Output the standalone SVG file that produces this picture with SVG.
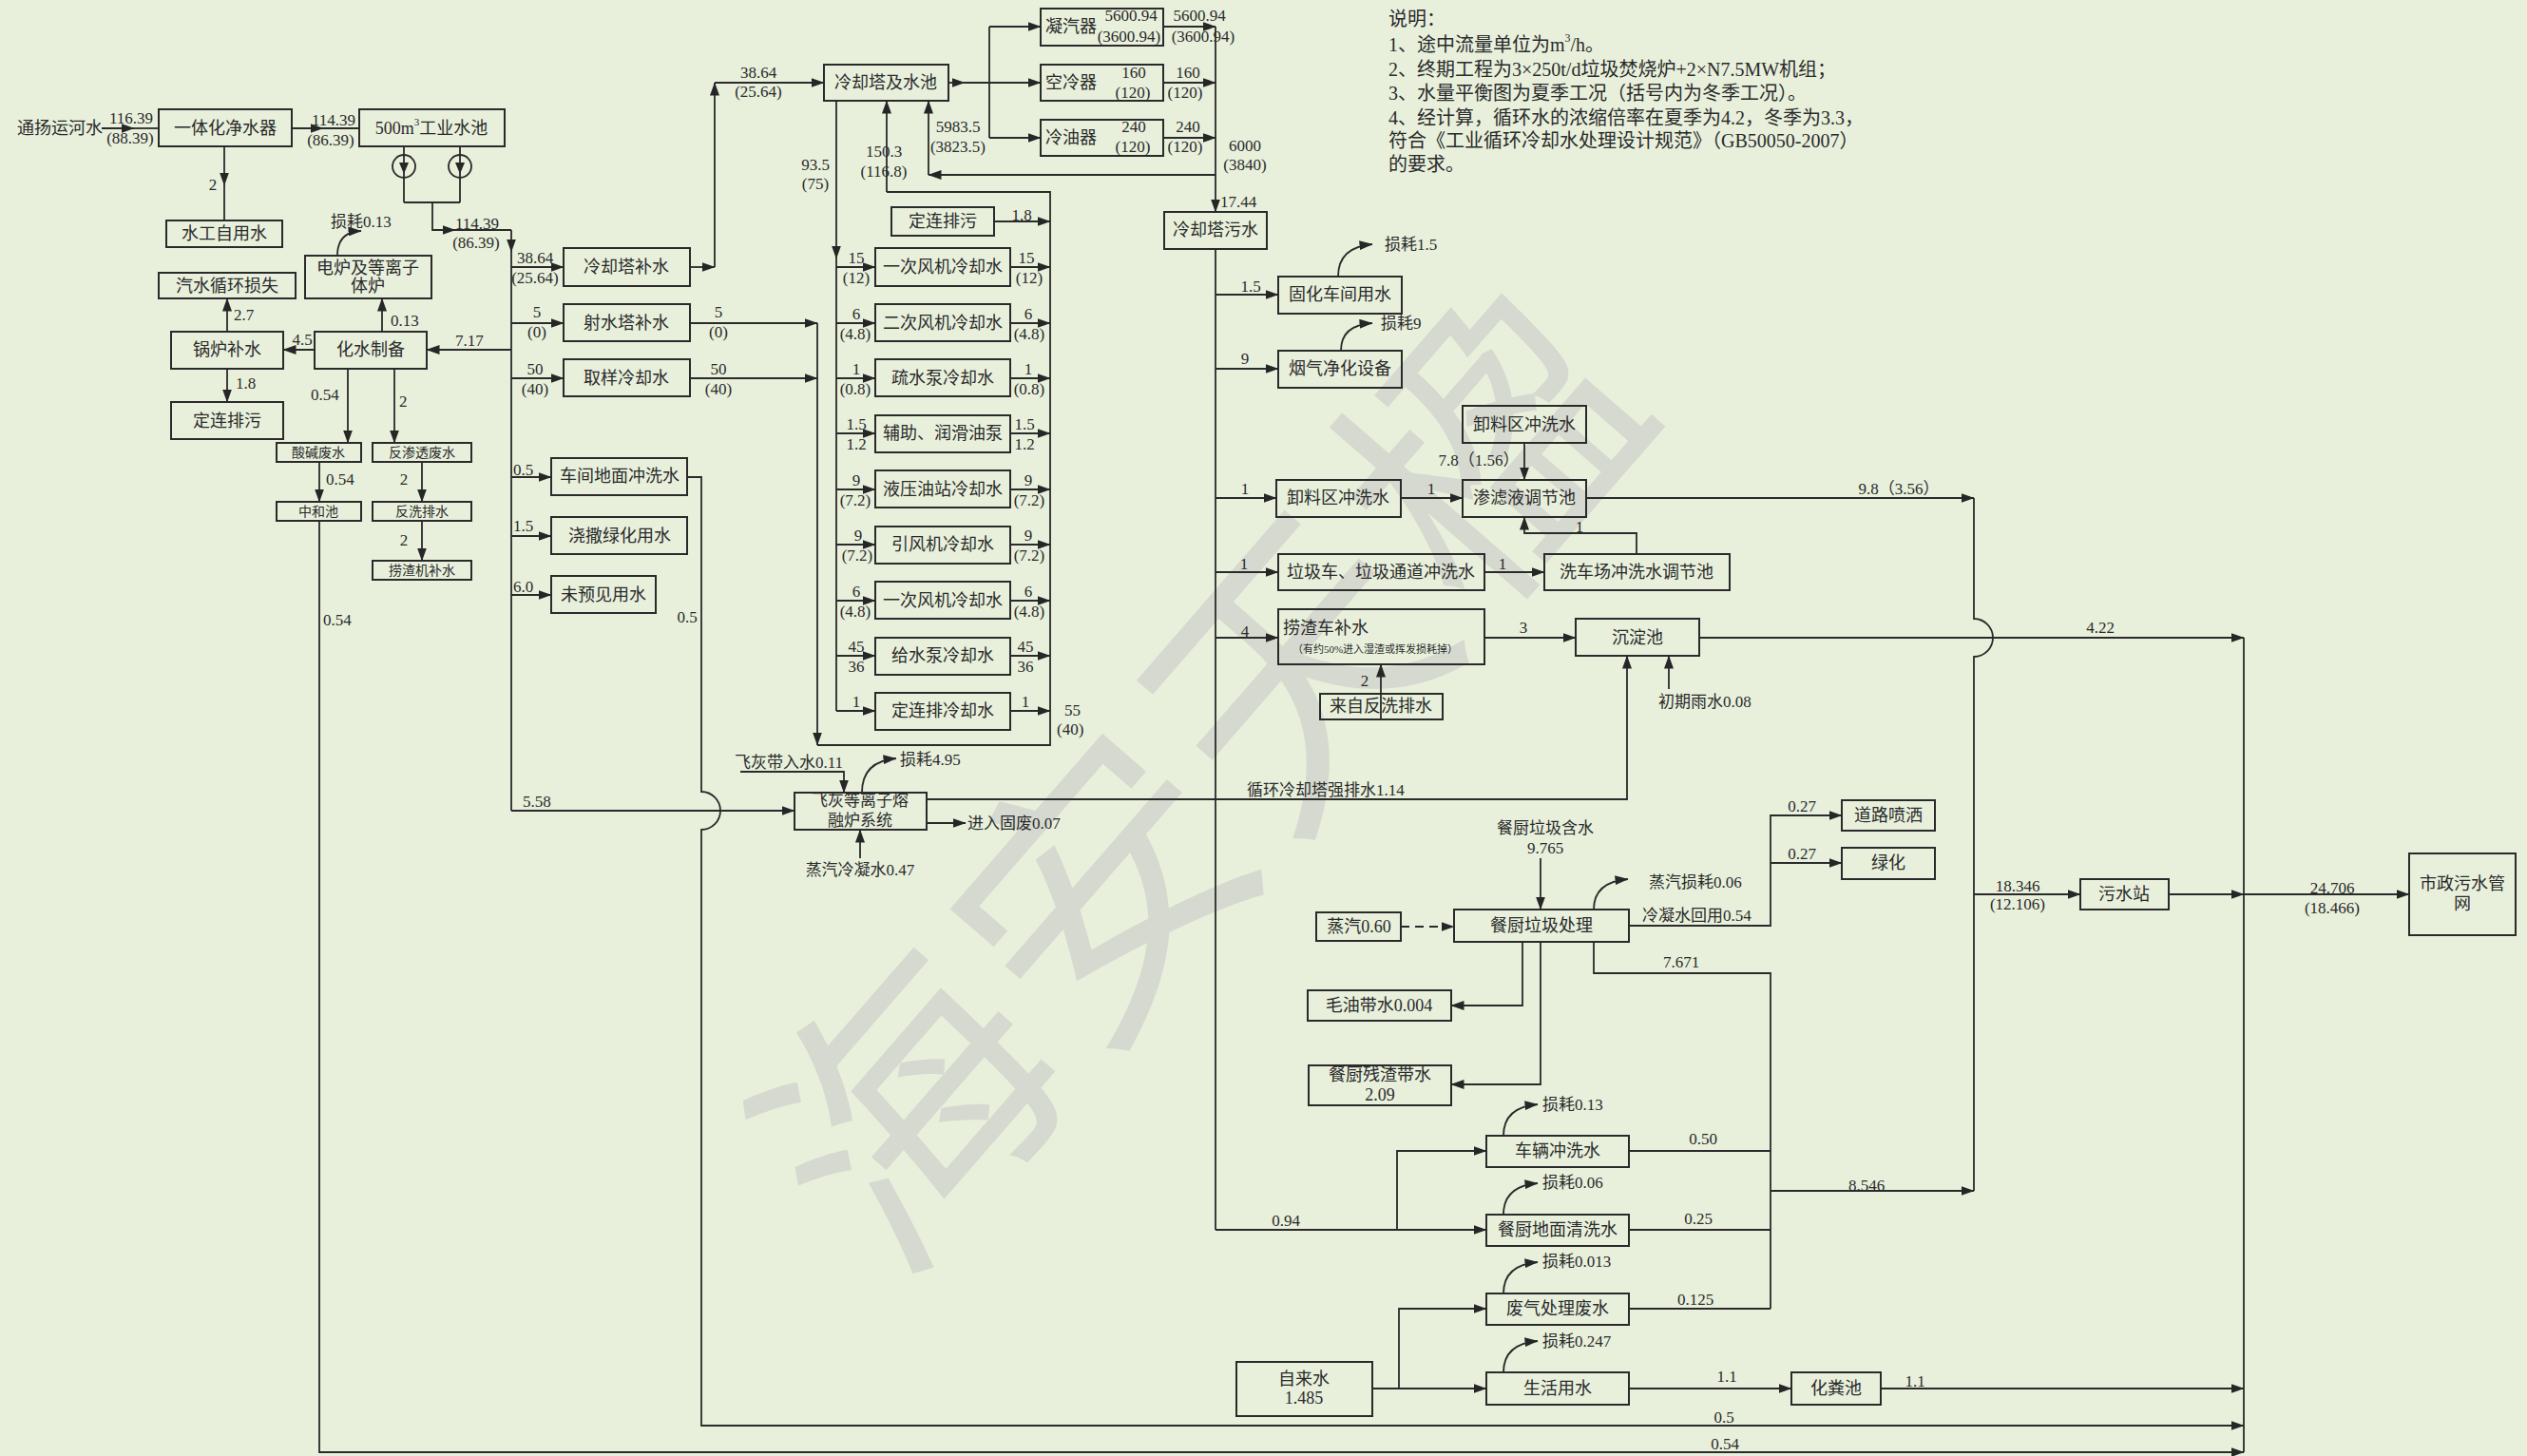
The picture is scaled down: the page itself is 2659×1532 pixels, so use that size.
<svg xmlns="http://www.w3.org/2000/svg" width="2659" height="1532" viewBox="0 0 2659 1532">
<defs>
<marker id="a" markerWidth="14" markerHeight="10" refX="13.5" refY="5" orient="auto" markerUnits="userSpaceOnUse"><path d="M0,0 L14,5 L0,10 z" fill="#262626"/></marker>
<style>
text{font-family:"Liberation Serif","Noto Sans CJK SC",serif;fill:#2a2a2a;dominant-baseline:central}
.n rect{fill:none;stroke:#2a2a2a;stroke-width:2}
.n text{font-size:18px;text-anchor:middle}
.n.sm text{font-size:14px}
#connectors path{fill:none;stroke:#2a2a2a;stroke-width:1.8}
#connectors .ar{marker-end:url(#a)}
#connectors .da{stroke-dasharray:9 6}
#labels text{font-size:17px;text-anchor:middle}
#labels text.s{text-anchor:start}
#notes text{font-size:20px}
#watermark text{font-size:300px;fill:#d6d9cf;text-anchor:middle;font-family:"Noto Sans CJK SC",sans-serif}
</style>
</defs>
<rect x="0" y="0" width="2659" height="1532" fill="#e8f0dc"/>
<g id="watermark">
<text transform="translate(941,1153) rotate(-49)">海</text>
<text transform="translate(1145,921) rotate(-49)">安</text>
<text transform="translate(1348,690) rotate(-49)">天</text>
<text transform="translate(1552,458) rotate(-49)">楹</text>
</g>
<g id="notes">
<text x="1461" y="20">说明：</text>
<text x="1461" y="47">1、途中流量单位为m<tspan font-size="12" dy="-7">3</tspan><tspan dy="7">/h。</tspan></text>
<text x="1461" y="73">2、终期工程为3×250t/d垃圾焚烧炉+2×N7.5MW机组；</text>
<text x="1461" y="98">3、水量平衡图为夏季工况（括号内为冬季工况）。</text>
<text x="1461" y="124">4、经计算，循环水的浓缩倍率在夏季为4.2，冬季为3.3，</text>
<text x="1461" y="148">符合《工业循环冷却水处理设计规范》（GB50050-2007）</text>
<text x="1461" y="173">的要求。</text>
</g>
<g id="nodes">
<g id="n-yiti" class="n"><rect x="167" y="115" width="140" height="39"/><text x="237" y="135">一体化净水器</text></g>
<g id="n-pool" class="n"><rect x="378" y="115" width="153" height="39"/><text x="454" y="135">500m<tspan font-size="11" dy="-7">3</tspan><tspan dy="7">工业水池</tspan></text></g>
<g id="n-shuigong" class="n"><rect x="175" y="232" width="122" height="28"/><text x="236" y="246">水工自用水</text></g>
<g id="n-dianlu" class="n"><rect x="321" y="269" width="133" height="45"/><text x="387" y="282">电炉及等离子</text><text x="387" y="301">体炉</text></g>
<g id="n-qishui" class="n"><rect x="167" y="287" width="144" height="27"/><text x="239" y="301">汽水循环损失</text></g>
<g id="n-guolu" class="n"><rect x="180" y="349" width="118" height="39"/><text x="239" y="368">锅炉补水</text></g>
<g id="n-huashui" class="n"><rect x="331" y="349" width="118" height="39"/><text x="390" y="368">化水制备</text></g>
<g id="n-dinglian1" class="n"><rect x="180" y="423" width="118" height="39"/><text x="239" y="443">定连排污</text></g>
<g id="n-suanjian" class="n sm"><rect x="291" y="466" width="89" height="20"/><text x="335" y="476">酸碱废水</text></g>
<g id="n-fanshentou" class="n sm"><rect x="392" y="466" width="104" height="20"/><text x="444" y="476">反渗透废水</text></g>
<g id="n-zhonghe" class="n sm"><rect x="291" y="528" width="89" height="20"/><text x="335" y="538">中和池</text></g>
<g id="n-fanxi" class="n sm"><rect x="392" y="528" width="104" height="20"/><text x="444" y="538">反洗排水</text></g>
<g id="n-laozhaji" class="n sm"><rect x="392" y="590" width="104" height="20"/><text x="444" y="600">捞渣机补水</text></g>
<g id="n-lqtbs" class="n"><rect x="593" y="261" width="133" height="40"/><text x="659" y="281">冷却塔补水</text></g>
<g id="n-sheshui" class="n"><rect x="593" y="320" width="133" height="39"/><text x="659" y="340">射水塔补水</text></g>
<g id="n-quyang" class="n"><rect x="593" y="378" width="133" height="39"/><text x="659" y="398">取样冷却水</text></g>
<g id="n-chejian" class="n"><rect x="580" y="482" width="143" height="39"/><text x="652" y="501">车间地面冲洗水</text></g>
<g id="n-jiaosa" class="n"><rect x="580" y="544" width="143" height="39"/><text x="652" y="564">浇撒绿化用水</text></g>
<g id="n-weiyujian" class="n"><rect x="580" y="606" width="110" height="39"/><text x="635" y="626">未预见用水</text></g>
<g id="n-lqt" class="n"><rect x="867" y="68" width="131" height="38"/><text x="932" y="87">冷却塔及水池</text></g>
<g id="n-ningqi" class="n"><rect x="1095" y="9" width="129" height="39"/><text x="1100" y="28" style="text-anchor:start">凝汽器</text></g>
<g id="n-kongleng" class="n"><rect x="1095" y="68" width="129" height="38"/><text x="1100" y="87" style="text-anchor:start">空冷器</text></g>
<g id="n-lengyou" class="n"><rect x="1095" y="126" width="129" height="38"/><text x="1100" y="145" style="text-anchor:start">冷油器</text></g>
<g id="n-dinglian2" class="n"><rect x="938" y="218" width="108" height="30"/><text x="992" y="233">定连排污</text></g>
<g id="n-c1" class="n"><rect x="921" y="261" width="142" height="40"/><text x="992" y="281">一次风机冷却水</text></g>
<g id="n-c2" class="n"><rect x="921" y="320" width="142" height="39"/><text x="992" y="340">二次风机冷却水</text></g>
<g id="n-c3" class="n"><rect x="921" y="378" width="142" height="39"/><text x="992" y="398">疏水泵冷却水</text></g>
<g id="n-c4" class="n"><rect x="921" y="437" width="142" height="39"/><text x="992" y="456">辅助、润滑油泵</text></g>
<g id="n-c5" class="n"><rect x="921" y="495" width="142" height="39"/><text x="992" y="515">液压油站冷却水</text></g>
<g id="n-c6" class="n"><rect x="921" y="554" width="142" height="39"/><text x="992" y="573">引风机冷却水</text></g>
<g id="n-c7" class="n"><rect x="921" y="612" width="142" height="39"/><text x="992" y="632">一次风机冷却水</text></g>
<g id="n-c8" class="n"><rect x="921" y="671" width="142" height="39"/><text x="992" y="690">给水泵冷却水</text></g>
<g id="n-c9" class="n"><rect x="921" y="729" width="142" height="39"/><text x="992" y="748">定连排冷却水</text></g>
<g id="n-lqtws" class="n"><rect x="1225" y="223" width="108" height="39"/><text x="1279" y="242">冷却塔污水</text></g>
<g id="n-guhua" class="n"><rect x="1345" y="291" width="130" height="39"/><text x="1410" y="310">固化车间用水</text></g>
<g id="n-yanqi" class="n"><rect x="1345" y="369" width="130" height="39"/><text x="1410" y="388">烟气净化设备</text></g>
<g id="n-xieliao1" class="n"><rect x="1539" y="427" width="130" height="39"/><text x="1604" y="447">卸料区冲洗水</text></g>
<g id="n-xieliao2" class="n"><rect x="1343" y="505" width="131" height="39"/><text x="1408" y="524">卸料区冲洗水</text></g>
<g id="n-shenlv" class="n"><rect x="1539" y="505" width="130" height="39"/><text x="1604" y="524">渗滤液调节池</text></g>
<g id="n-lajiche" class="n"><rect x="1345" y="583" width="217" height="38"/><text x="1453" y="602">垃圾车、垃圾通道冲洗水</text></g>
<g id="n-xichechang" class="n"><rect x="1625" y="583" width="195" height="38"/><text x="1722" y="602">洗车场冲洗水调节池</text></g>
<g id="n-laozhache" class="n"><rect x="1345" y="641" width="217" height="58"/><text x="1350" y="661" style="text-anchor:start">捞渣车补水</text><text x="1447" y="683" style="font-size:11px">（有约50%进入湿渣或挥发损耗掉）</text></g>
<g id="n-chendian" class="n"><rect x="1658" y="651" width="130" height="39"/><text x="1723" y="671">沉淀池</text></g>
<g id="n-laizi" class="n"><rect x="1389" y="730" width="129" height="27"/><text x="1453" y="743">来自反洗排水</text></g>
<g id="n-feihui" class="n"><rect x="836" y="834" width="139" height="39"/><text x="905" y="842" style="font-size:17px">飞灰等离子熔</text><text x="905" y="863" style="font-size:17px">融炉系统</text></g>
<g id="n-canchu" class="n"><rect x="1530" y="957" width="184" height="34"/><text x="1622" y="974">餐厨垃圾处理</text></g>
<g id="n-zhengqi" class="n"><rect x="1385" y="960" width="89" height="30"/><text x="1430" y="975">蒸汽0.60</text></g>
<g id="n-daolu" class="n"><rect x="1938" y="842" width="98" height="32"/><text x="1987" y="858">道路喷洒</text></g>
<g id="n-lvhua" class="n"><rect x="1938" y="892" width="98" height="33"/><text x="1987" y="908">绿化</text></g>
<g id="n-maoyou" class="n"><rect x="1376" y="1042" width="151" height="32"/><text x="1451" y="1058">毛油带水0.004</text></g>
<g id="n-canzha" class="n"><rect x="1377" y="1121" width="150" height="42"/><text x="1452" y="1131">餐厨残渣带水</text><text x="1452" y="1152">2.09</text></g>
<g id="n-cheliang" class="n"><rect x="1564" y="1195" width="150" height="33"/><text x="1639" y="1211">车辆冲洗水</text></g>
<g id="n-dimian" class="n"><rect x="1564" y="1278" width="150" height="33"/><text x="1639" y="1294">餐厨地面清洗水</text></g>
<g id="n-feiqi" class="n"><rect x="1564" y="1361" width="150" height="33"/><text x="1639" y="1377">废气处理废水</text></g>
<g id="n-shenghuo" class="n"><rect x="1564" y="1444" width="150" height="34"/><text x="1639" y="1461">生活用水</text></g>
<g id="n-zilai" class="n"><rect x="1301" y="1433" width="143" height="57"/><text x="1372" y="1451">自来水</text><text x="1372" y="1471">1.485</text></g>
<g id="n-huafen" class="n"><rect x="1885" y="1444" width="94" height="34"/><text x="1932" y="1461">化粪池</text></g>
<g id="n-wushui" class="n"><rect x="2189" y="925" width="93" height="32"/><text x="2235" y="941">污水站</text></g>
<g id="n-shizheng" class="n"><rect x="2535" y="898" width="112" height="86"/><text x="2591" y="930">市政污水管</text><text x="2591" y="951">网</text></g>
<g id="n-pumps">
<circle cx="425" cy="175" r="12" fill="none" stroke="#2a2a2a" stroke-width="1.8"/>
<circle cx="484" cy="175" r="12" fill="none" stroke="#2a2a2a" stroke-width="1.8"/>
<path d="M420,171 L430,171 L425,183 z M479,171 L489,171 L484,183 z" fill="#262626"/>
</g>
</g>
<g id="connectors">
<path class="ar" d="M107,135 H141"/><path d="M141,135 H167"/>
<path class="ar" d="M307,135 H340"/><path d="M340,135 H378"/>
<path d="M425,154 V213 M484,154 V213 M425,213 H484"/>
<path class="ar" d="M455,213 V242 H479"/><path d="M479,242 H538"/>
<path class="ar" d="M538,242 V265"/><path d="M538,265 V853"/>
<path class="ar" d="M236,154 V195"/><path d="M236,195 V232"/>
<path class="ar" d="M239,349 V314"/>
<path class="ar" d="M331,368 H298"/>
<path class="ar" d="M402,349 V314"/>
<path class="ar" d="M355,269 Q355,244 380,243"/>
<path class="ar" d="M538,368 H449"/>
<path class="ar" d="M239,388 V423"/>
<path class="ar" d="M366,388 V466"/>
<path class="ar" d="M415,388 V466"/>
<path class="ar" d="M336,486 V528"/>
<path class="ar" d="M444,486 V528"/>
<path class="ar" d="M444,548 V590"/>
<path class="ar" d="M336,548 V1528 H2361"/>
<path class="ar" d="M538,281 H593"/>
<path class="ar" d="M538,340 H593"/>
<path class="ar" d="M538,398 H593"/>
<path class="ar" d="M726,281 H752"/><path class="ar" d="M752,281 V87"/><path class="ar" d="M752,87 H867"/>
<path class="ar" d="M726,340 H860"/>
<path class="ar" d="M726,398 H860"/>
<path class="ar" d="M860,340 V784"/>
<path d="M860,784 H1105 V202 H933"/><path class="ar" d="M933,202 V106"/>
<path class="ar" d="M880,106 V272"/><path d="M880,272 V748"/>
<path class="ar" d="M880,281 H921"/><path class="ar" d="M880,340 H921"/><path class="ar" d="M880,398 H921"/>
<path class="ar" d="M880,456 H921"/><path class="ar" d="M880,515 H921"/><path class="ar" d="M880,573 H921"/>
<path class="ar" d="M880,632 H921"/><path class="ar" d="M880,690 H921"/><path class="ar" d="M880,748 H921"/>
<path class="ar" d="M1063,281 H1105"/><path class="ar" d="M1063,340 H1105"/><path class="ar" d="M1063,398 H1105"/>
<path class="ar" d="M1063,456 H1105"/><path class="ar" d="M1063,515 H1105"/><path class="ar" d="M1063,573 H1105"/>
<path class="ar" d="M1063,632 H1105"/><path class="ar" d="M1063,690 H1105"/><path class="ar" d="M1063,748 H1105"/>
<path class="ar" d="M1046,233 H1105"/>
<path class="ar" d="M998,87 H1015"/><path class="ar" d="M1015,87 H1095"/>
<path d="M1041,28 V145"/><path class="ar" d="M1041,28 H1095"/><path class="ar" d="M1041,145 H1095"/>
<path class="ar" d="M1224,28 H1279"/><path class="ar" d="M1224,87 H1279"/><path class="ar" d="M1224,145 H1279"/>
<path class="ar" d="M1279,28 V223"/>
<path class="ar" d="M1279,184 H977"/><path class="ar" d="M977,184 V106"/>
<path class="ar" d="M538,502 H580"/><path class="ar" d="M538,564 H580"/><path class="ar" d="M538,626 H580"/>
<path class="ar" d="M723,502 H738 V833 A20,20 0 0 1 738,873 V1500 H2361"/>
<path class="ar" d="M538,853 H836"/>
<path class="ar" d="M779,812 H888 V834"/>
<path class="ar" d="M907,834 Q907,801 943,798"/>
<path class="ar" d="M975,866 H1016"/>
<path class="ar" d="M905,903 V873"/>
<path class="ar" d="M975,841 H1712 V690"/>
<path d="M1279,262 V1294"/><path class="ar" d="M1279,1294 H1564"/>
<path class="ar" d="M1279,310 H1345"/><path class="ar" d="M1279,388 H1345"/><path class="ar" d="M1279,524 H1343"/>
<path class="ar" d="M1279,602 H1345"/><path class="ar" d="M1279,671 H1345"/>
<path class="ar" d="M1408,291 Q1408,260 1444,257"/>
<path class="ar" d="M1411,369 Q1411,342 1444,340"/>
<path class="ar" d="M1604,466 V505"/>
<path class="ar" d="M1474,524 H1539"/>
<path class="ar" d="M1669,524 H2077"/>
<path class="ar" d="M1722,583 V561 H1604 V544"/>
<path class="ar" d="M1562,602 H1625"/>
<path class="ar" d="M1562,671 H1658"/>
<path class="ar" d="M1788,671 H2361"/>
<path d="M2077,524 V651 A20,20 0 0 1 2077,691 V1253"/>
<path class="ar" d="M1453,757 V699"/>
<path class="ar" d="M1756,725 V690"/>
<path class="ar" d="M1621,903 V957"/>
<path class="ar da" d="M1474,975 H1530"/>
<path class="ar" d="M1677,957 Q1677,928 1713,925"/>
<path class="ar" d="M1714,974 H1863 V858 H1938"/>
<path class="ar" d="M1863,908 H1938"/>
<path class="ar" d="M1602,991 V1058 H1527"/>
<path class="ar" d="M1621,991 V1141 H1527"/>
<path d="M1677,991 V1024 H1863 V1377"/>
<path class="ar" d="M1863,1253 H2077"/>
<path d="M1714,1211 H1863 M1714,1294 H1863 M1714,1377 H1863"/>
<path class="ar" d="M1470,1294 V1211 H1564"/>
<path class="ar" d="M1582,1195 Q1582,1165 1618,1162"/>
<path class="ar" d="M1582,1278 Q1582,1248 1618,1245"/>
<path class="ar" d="M1582,1361 Q1582,1331 1618,1328"/>
<path class="ar" d="M1582,1444 Q1582,1414 1618,1411"/>
<path class="ar" d="M1444,1461 H1564"/>
<path class="ar" d="M1472,1461 V1377 H1564"/>
<path class="ar" d="M1714,1461 H1885"/>
<path class="ar" d="M1979,1461 H2361"/>
<path class="ar" d="M2077,941 H2189"/>
<path class="ar" d="M2282,941 H2361"/>
<path class="ar" d="M2361,941 H2535"/>
<path d="M2361,671 V1528"/>
</g>
<g id="labels">
<text class="s" x="18" y="135" style="font-size:18px">通扬运河水</text>
<text x="138" y="124">116.39</text><text x="137" y="145">(88.39)</text>
<text x="351" y="126">114.39</text><text x="348" y="147">(86.39)</text>
<text x="502" y="235">114.39</text><text x="501" y="255">(86.39)</text>
<text x="224" y="194">2</text>
<text class="s" x="348" y="233">损耗0.13</text>
<text class="s" x="246" y="331">2.7</text>
<text x="318" y="357">4.5</text>
<text class="s" x="411" y="337">0.13</text>
<text class="s" x="479" y="358">7.17</text>
<text class="s" x="248" y="403">1.8</text>
<text class="s" x="327" y="415">0.54</text>
<text class="s" x="420" y="422">2</text>
<text class="s" x="343" y="504">0.54</text>
<text x="425" y="504">2</text>
<text x="425" y="568">2</text>
<text class="s" x="340" y="652">0.54</text>
<text x="563" y="271">38.64</text><text x="563" y="292">(25.64)</text>
<text x="565" y="328">5</text><text x="565" y="349">(0)</text>
<text x="563" y="388">50</text><text x="563" y="409">(40)</text>
<text x="756" y="328">5</text><text x="756" y="349">(0)</text>
<text x="756" y="388">50</text><text x="756" y="409">(40)</text>
<text class="s" x="540" y="494">0.5</text>
<text class="s" x="540" y="553">1.5</text>
<text class="s" x="540" y="617">6.0</text>
<text x="723" y="649">0.5</text>
<text class="s" x="550" y="843">5.58</text>
<text x="798" y="76">38.64</text><text x="798" y="96">(25.64)</text>
<text x="858" y="173">93.5</text><text x="858" y="193">(75)</text>
<text x="930" y="159">150.3</text><text x="930" y="180">(116.8)</text>
<text x="1008" y="133">5983.5</text><text x="1008" y="154">(3823.5)</text>
<text x="1190" y="16">5600.94</text><text x="1188" y="38">(3600.94)</text>
<text x="1193" y="76">160</text><text x="1192" y="97">(120)</text>
<text x="1193" y="133">240</text><text x="1192" y="154">(120)</text>
<text x="1262" y="16">5600.94</text><text x="1266" y="38">(3600.94)</text>
<text x="1250" y="76">160</text><text x="1247" y="97">(120)</text>
<text x="1250" y="133">240</text><text x="1247" y="154">(120)</text>
<text x="1310" y="153">6000</text><text x="1310" y="173">(3840)</text>
<text class="s" x="1284" y="212">17.44</text>
<text x="1075" y="226">1.8</text>
<text x="901" y="271">15</text><text x="901" y="292">(12)</text>
<text x="901" y="330">6</text><text x="900" y="351">(4.8)</text>
<text x="901" y="388">1</text><text x="900" y="409">(0.8)</text>
<text x="901" y="446">1.5</text><text x="901" y="467">1.2</text>
<text x="901" y="505">9</text><text x="900" y="526">(7.2)</text>
<text x="903" y="563">9</text><text x="902" y="584">(7.2)</text>
<text x="901" y="622">6</text><text x="900" y="643">(4.8)</text>
<text x="901" y="680">45</text><text x="901" y="701">36</text>
<text x="901" y="738">1</text>
<text x="1080" y="271">15</text><text x="1083" y="292">(12)</text>
<text x="1082" y="330">6</text><text x="1083" y="351">(4.8)</text>
<text x="1082" y="388">1</text><text x="1083" y="409">(0.8)</text>
<text x="1078" y="446">1.5</text><text x="1078" y="467">1.2</text>
<text x="1082" y="505">9</text><text x="1083" y="526">(7.2)</text>
<text x="1082" y="563">9</text><text x="1083" y="584">(7.2)</text>
<text x="1082" y="622">6</text><text x="1083" y="643">(4.8)</text>
<text x="1079" y="680">45</text><text x="1079" y="701">36</text>
<text x="1079" y="738">1</text>
<text class="s" x="1120" y="747">55</text><text class="s" x="1112" y="767">(40)</text>
<text x="1316" y="301">1.5</text>
<text class="s" x="1457" y="257">损耗1.5</text>
<text x="1310" y="377">9</text>
<text class="s" x="1453" y="340">损耗9</text>
<text x="1556" y="484">7.8（1.56）</text>
<text x="1310" y="514">1</text><text x="1506" y="514">1</text>
<text x="1998" y="514">9.8（3.56）</text>
<text x="1662" y="554">1</text>
<text x="1309" y="593">1</text><text x="1581" y="593">1</text>
<text x="1310" y="664">4</text><text x="1603" y="660">3</text>
<text x="1436" y="716">2</text>
<text class="s" x="1745" y="738">初期雨水0.08</text>
<text x="2210" y="660">4.22</text>
<text class="s" x="1312" y="831">循环冷却塔强排水1.14</text>
<text class="s" x="773" y="802">飞灰带入水0.11</text>
<text class="s" x="947" y="799">损耗4.95</text>
<text class="s" x="1018" y="866">进入固废0.07</text>
<text x="905" y="915">蒸汽冷凝水0.47</text>
<text x="1626" y="871">餐厨垃圾含水</text><text x="1626" y="892">9.765</text>
<text class="s" x="1735" y="928">蒸汽损耗0.06</text>
<text class="s" x="1728" y="963">冷凝水回用0.54</text>
<text x="1896" y="848">0.27</text><text x="1896" y="898">0.27</text>
<text x="1769" y="1012">7.671</text>
<text x="2123" y="932">18.346</text><text x="2123" y="951">(12.106)</text>
<text x="2454" y="934">24.706</text><text x="2454" y="955">(18.466)</text>
<text class="s" x="1623" y="1162">损耗0.13</text>
<text x="1792" y="1198">0.50</text>
<text x="1964" y="1247">8.546</text>
<text class="s" x="1623" y="1244">损耗0.06</text>
<text x="1353" y="1284">0.94</text>
<text x="1787" y="1282">0.25</text>
<text class="s" x="1623" y="1327">损耗0.013</text>
<text x="1784" y="1367">0.125</text>
<text class="s" x="1623" y="1411">损耗0.247</text>
<text x="1817" y="1448">1.1</text>
<text x="2015" y="1453">1.1</text>
<text x="1814" y="1491">0.5</text>
<text x="1815" y="1519">0.54</text>
</g>
</svg>
